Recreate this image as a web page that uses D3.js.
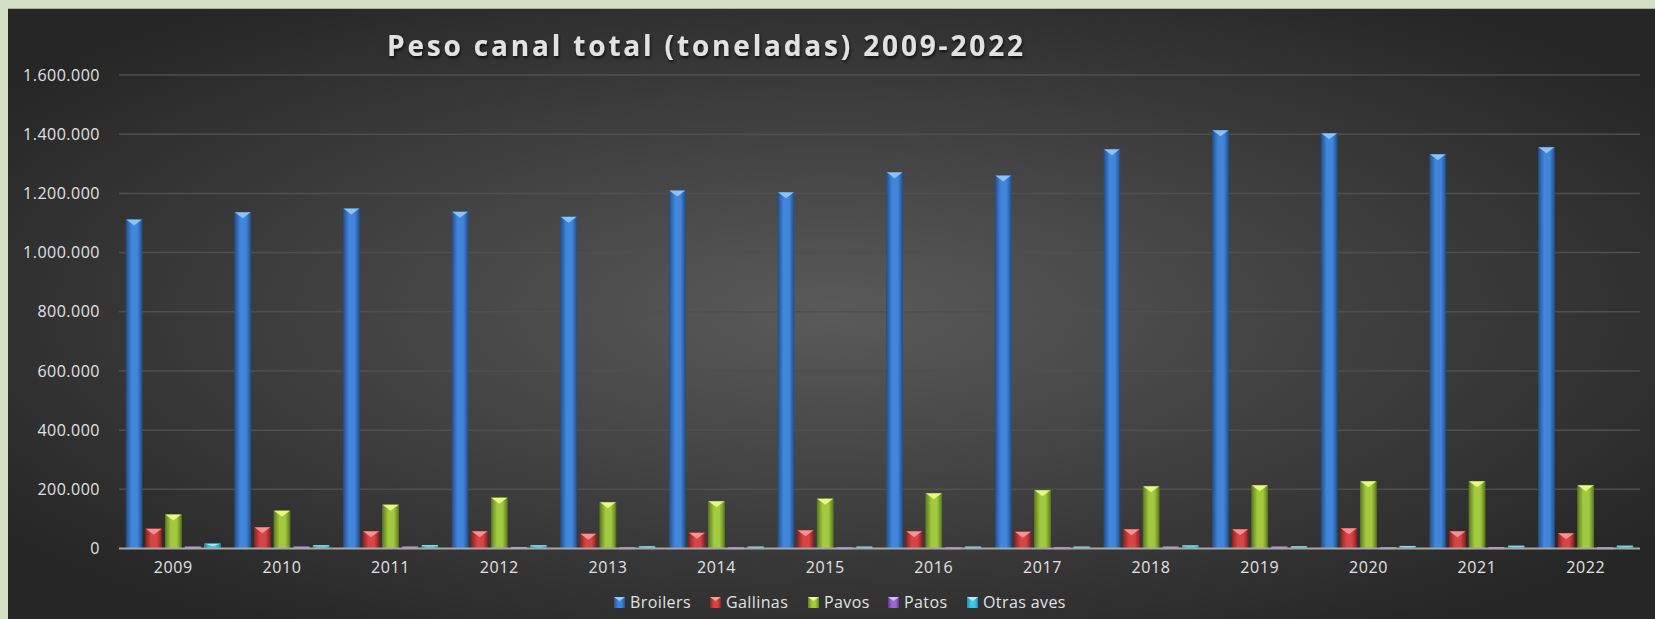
<!DOCTYPE html>
<html lang="es">
<head>
<meta charset="UTF-8">
<title>Peso canal total</title>
<script src="https://cdn.jsdelivr.net/npm/d3@7"></script>
<style>
    body { margin: 0; background: #d3dec4; }
    svg { display: block; }
    text { font-family: "Open Sans", sans-serif; fill: #e2e2e2; }
</style>
</head>
<body>
<svg width="1655" height="619"></svg>
<script>
    // datos (toneladas)
    var years = ["2009", "2010", "2011", "2012", "2013", "2014", "2015", "2016", "2017", "2018", "2019", "2020", "2021", "2022"];
    var seriesNames = ["Broilers", "Gallinas", "Pavos", "Patos", "Otras aves"];
    var broilers = [1112000, 1136000, 1149000, 1138000, 1121000, 1210000, 1204000, 1271000, 1260000, 1349000, 1413000, 1403000, 1332000, 1356000];
    var gallinas = [66900, 71600, 58100, 58100, 50000, 53400, 61500, 58100, 57000, 64900, 64900, 68300, 58100, 51400];
    var pavos = [114900, 127700, 148000, 171600, 156100, 159500, 168300, 186500, 196700, 210000, 213500, 227000, 227000, 213500];
    var patos = [5000, 5000, 5000, 3500, 2500, 2500, 2500, 2500, 2500, 5000, 5000, 2500, 3000, 2500];
    var otras = [16200, 9500, 10000, 9500, 6000, 5000, 5000, 5000, 5000, 9000, 6000, 7000, 8000, 8000];
    var yTicks = [0, 200000, 400000, 600000, 800000, 1000000, 1200000, 1400000, 1600000];

    var values = [broilers, gallinas, pavos, patos, otras];
    var colors = [
        {edge: "#24528f", mid: "#4186da", cap: "#93cbff"},
        {edge: "#8f2222", mid: "#d64545", cap: "#ff9a9a"},
        {edge: "#5f7f1f", mid: "#a3c940", cap: "#eeff8a"},
        {edge: "#5a3a8a", mid: "#9a6ad0", cap: "#d6b8ff"},
        {edge: "#1f8aa8", mid: "#42c6e6", cap: "#aef0ff"}
    ];

    var svg = d3.select("svg");
    var defs = svg.append("defs");

    var bg = defs.append("radialGradient").attr("id", "bg")
        .attr("cx", "50%").attr("cy", "50%").attr("r", "62%");
    bg.append("stop").attr("offset", "0%").attr("stop-color", "#5a5a5a");
    bg.append("stop").attr("offset", "100%").attr("stop-color", "#262626");

    colors.forEach(function(c, i) {
        var g = defs.append("linearGradient").attr("id", "bar" + i)
            .attr("x1", "0%").attr("x2", "100%").attr("y1", "0%").attr("y2", "0%");
        g.append("stop").attr("offset", "0%").attr("stop-color", c.edge);
        g.append("stop").attr("offset", "35%").attr("stop-color", c.mid);
        g.append("stop").attr("offset", "70%").attr("stop-color", c.mid);
        g.append("stop").attr("offset", "100%").attr("stop-color", c.edge);
    });

    var shadow = defs.append("filter").attr("id", "tshadow");
    shadow.append("feDropShadow").attr("dx", 1).attr("dy", 2).attr("stdDeviation", 1.5)
        .attr("flood-color", "#000").attr("flood-opacity", 0.7);

    // fondo
    svg.append("rect").attr("x", 0).attr("y", 0).attr("width", 1655).attr("height", 8).attr("fill", "#d3dec4");
    svg.append("rect").attr("x", 8).attr("y", 8).attr("width", 1647).attr("height", 611).attr("fill", "url(#bg)");
    svg.append("line").attr("x1", 8).attr("x2", 1655).attr("y1", 8.5).attr("y2", 8.5)
        .attr("stroke", "#a9b29c").attr("stroke-width", 1);

    var plotLeft = 119, plotRight = 1640, plotTop = 75, plotBottom = 548.5;

    var x = d3.scaleBand().domain(years).range([plotLeft, plotRight]).padding(0);
    var xs = d3.scaleBand().domain(d3.range(seriesNames.length))
        .range([0, x.bandwidth()]).paddingInner(0.19).paddingOuter(0.365);
    var y = d3.scaleLinear().domain([0, 1600000]).range([plotBottom, plotTop]);

    var es = d3.formatLocale({decimal: ",", thousands: ".", grouping: [3], currency: ["", " €"]});
    var fmt = es.format(",");

    // rejilla
    svg.append("g").selectAll("line").data(yTicks.slice(1)).enter().append("line")
        .attr("x1", plotLeft).attr("x2", plotRight)
        .attr("y1", function(d) { return y(d); })
        .attr("y2", function(d) { return y(d); })
        .attr("stroke", "#4f4f4f").attr("stroke-width", 1.5);

    var yAxis = svg.append("g").attr("transform", "translate(" + (plotLeft - 4) + ",0)")
        .call(d3.axisLeft(y).tickValues(yTicks).tickFormat(fmt).tickSize(0).tickPadding(15));
    yAxis.select(".domain").remove();
    yAxis.selectAll("text").attr("font-size", 16).attr("fill", "#e2e2e2")
        .attr("font-family", "Open Sans, sans-serif").style("letter-spacing", "0.5px");

    var xAxis = svg.append("g").attr("transform", "translate(0," + plotBottom + ")")
        .call(d3.axisBottom(x).tickSize(0).tickPadding(13));
    xAxis.select(".domain").remove();
    xAxis.selectAll("text").attr("font-size", 16).attr("fill", "#e2e2e2")
        .attr("font-family", "Open Sans, sans-serif").style("letter-spacing", "0.6px");

    // barras
    var groups = svg.append("g").selectAll("g.serie").data(values).enter().append("g")
        .attr("class", "serie");

    groups.each(function(vals, i) {
        var g = d3.select(this);
        var w = xs.bandwidth();
        vals.forEach(function(v, j) {
            var x0 = x(years[j]) + xs(i);
            var y0 = y(v);
            var h = plotBottom - y0;
            g.append("rect")
                .attr("x", x0).attr("y", y0)
                .attr("width", w).attr("height", Math.max(h, 1.5))
                .attr("fill", "url(#bar" + i + ")")
                .attr("stroke", colors[i].edge).attr("stroke-width", 0.8);
            var capH = Math.min(6, h * 0.5);
            if (h > 3) {
                g.append("path")
                    .attr("d", "M" + x0 + "," + y0 + "L" + (x0 + w) + "," + y0 + "L" + (x0 + w / 2) + "," + (y0 + capH) + "Z")
                    .attr("fill", colors[i].cap).attr("opacity", 0.9);
            } else {
                g.append("rect").attr("x", x0).attr("y", y0 - 0.5).attr("width", w).attr("height", 1.2)
                    .attr("fill", colors[i].cap).attr("opacity", 0.8);
            }
        });
    });

    // eje base
    svg.append("line").attr("x1", plotLeft).attr("x2", plotRight).attr("y1", plotBottom).attr("y2", plotBottom)
        .attr("stroke", "#a6a6a6").attr("stroke-width", 1.8);

    // titulo: ajusta el espaciado para ocupar el mismo ancho
    var title = svg.append("text").attr("x", 387).attr("y", 56)
        .attr("font-size", 28).attr("font-weight", "bold").attr("fill", "#f2f2f2")
        .attr("filter", "url(#tshadow)")
        .text("Peso canal total (toneladas) 2009-2022");
    var tl = title.node().getComputedTextLength();
    var ls = Math.max(0, (636 - tl) / 37);
    title.style("letter-spacing", ls + "px");

    // leyenda
    var legendX = [614, 710, 808, 888, 967];
    var legend = svg.append("g").selectAll("g").data(seriesNames).enter().append("g")
        .attr("transform", function(d, i) { return "translate(" + legendX[i] + ",597)"; });
    legend.append("rect").attr("width", 11).attr("height", 11)
        .attr("fill", function(d, i) { return "url(#bar" + i + ")"; });
    legend.append("path").attr("d", "M0,0L11,0L5.5,4Z")
        .attr("fill", function(d, i) { return colors[i].cap; });
    legend.append("text").attr("x", 16).attr("y", 11).attr("font-size", 16)
        .style("letter-spacing", "0.4px")
        .text(function(d) { return d; });
</script>
</body>
</html>
